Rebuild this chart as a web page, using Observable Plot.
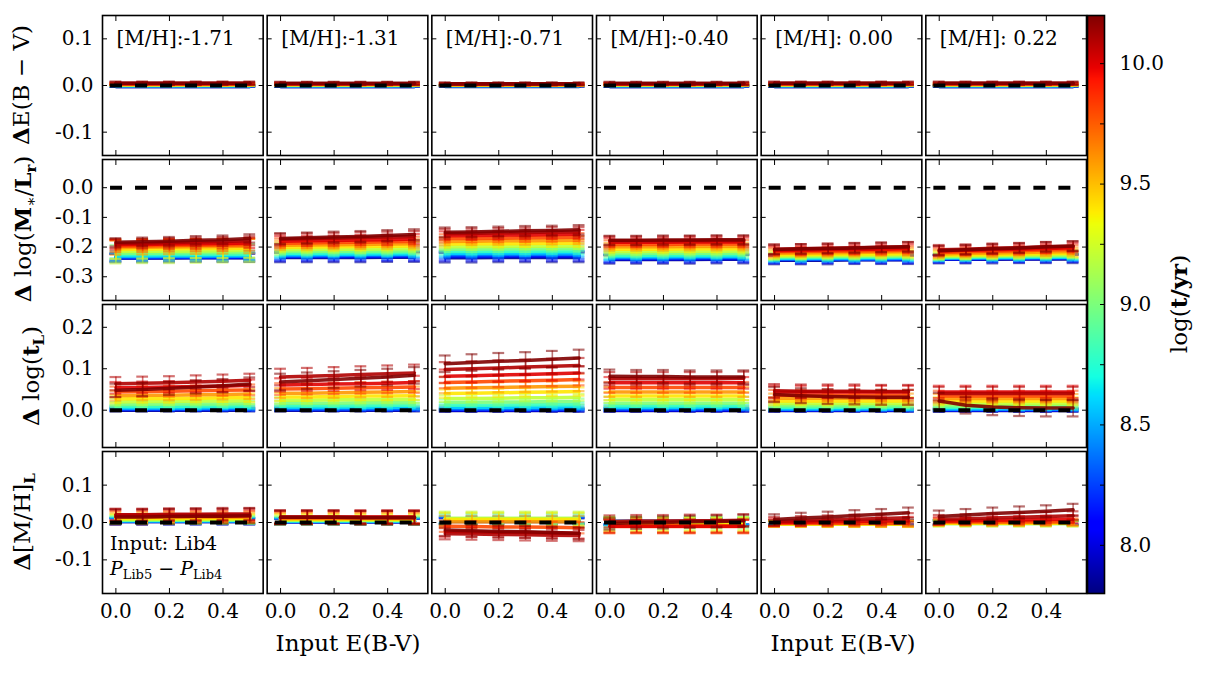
<!DOCTYPE html>
<html><head><meta charset="utf-8">
<script src="https://cdn.jsdelivr.net/npm/d3@7"></script>
<script src="https://cdn.jsdelivr.net/npm/@observablehq/plot@0.6"></script>
<style>
html,body{margin:0;padding:0;background:#fff;}
#chart{position:relative;width:1207px;height:673px;background:#fff;overflow:hidden;}
#chart svg, #chart svg text, #chart svg g {font-family:"DejaVu Serif", serif !important;}
</style></head><body><div id="chart"></div>
<script>
// ---------- categories / ticks ----------
const mhLabels = ["[M/H]:-1.71","[M/H]:-1.31","[M/H]:-0.71","[M/H]:-0.40","[M/H]: 0.00","[M/H]: 0.22"];
const inputEBV = [0, 0.1, 0.2, 0.3, 0.4, 0.5];
const ages = [7.8, 8.0, 8.2, 8.4, 8.6, 8.8, 9.0, 9.2, 9.4, 9.6, 9.8, 10.0, 10.1, 10.2];
const xTicks = [0, 0.2, 0.4];
const ebvTicks = [-0.1, 0, 0.1];
const mlTicks = [-0.3, -0.2, -0.1, 0];
const tlTicks = [0, 0.1, 0.2];
const mhTicks = [-0.1, 0, 0.1];
const cbTicks = [8.0, 8.5, 9.0, 9.5, 10.0];
const cbMinorTicks = [8.0, 8.25, 8.5, 8.75, 9.0, 9.25, 9.5, 9.75, 10.0];

// ---------- series values (units of 0.001), [panel][age][input E(B-V)] ----------
const ebvVals = [
 [[-2,-2,-2,-2,-2,-2],[-2,-2,-2,-2,-2,-2],[-1,-1,-1,-1,-1,-1],[-1,-1,-1,-1,-1,-1],[0,0,0,0,0,0],[0,0,0,0,0,0],[1,1,1,1,1,1],[1,1,1,1,1,1],[2,2,2,2,2,2],[2,2,2,2,2,2],[3,3,3,3,3,3],[4,4,4,4,4,4],[5,5,5,5,5,5],[5,5,5,5,5,5]],
 [[-2,-2,-2,-2,-2,-2],[-2,-2,-2,-2,-2,-2],[-1,-1,-1,-1,-1,-1],[-1,-1,-1,-1,-1,-1],[0,0,0,0,0,0],[0,0,0,0,0,0],[1,1,1,1,1,1],[1,1,1,1,1,1],[2,2,2,2,2,2],[2,2,2,2,2,2],[3,3,3,3,3,3],[4,4,4,4,4,4],[4,4,4,4,4,4],[5,5,5,5,5,5]],
 [[-2,-2,-2,-2,-2,-2],[-1,-1,-1,-1,-1,-1],[-1,-1,-1,-1,-1,-1],[0,0,0,0,0,0],[0,0,0,0,0,0],[0,0,0,0,0,0],[1,1,1,1,1,1],[1,1,1,1,1,1],[1,1,1,1,1,1],[2,2,2,2,2,2],[2,2,2,2,2,2],[3,3,3,3,3,3],[3,3,3,3,3,3],[4,4,4,4,4,4]],
 [[-2,-2,-2,-2,-2,-2],[-2,-2,-2,-2,-2,-2],[-1,-1,-1,-1,-1,-1],[-1,-1,-1,-1,-1,-1],[0,0,0,0,0,0],[0,0,0,0,0,0],[1,1,1,1,1,1],[1,1,1,1,1,1],[2,2,2,2,2,2],[2,2,2,2,2,2],[3,3,3,3,3,3],[3,3,3,3,3,3],[4,4,4,4,4,4],[5,5,5,5,5,5]],
 [[-2,-2,-2,-2,-2,-2],[-2,-2,-2,-2,-2,-2],[-1,-1,-1,-1,-1,-1],[-1,-1,-1,-1,-1,-1],[0,0,0,0,0,0],[0,0,0,0,0,0],[1,1,1,1,1,1],[1,1,1,1,1,1],[2,2,2,2,2,2],[2,2,2,2,2,2],[3,3,3,3,3,3],[4,4,4,4,4,4],[5,5,5,5,5,5],[5,5,5,5,5,5]],
 [[-2,-2,-2,-2,-2,-2],[-2,-2,-2,-2,-2,-2],[-1,-1,-1,-1,-1,-1],[-1,-1,-1,-1,-1,-1],[0,0,0,0,0,0],[0,0,0,0,0,0],[1,1,1,1,1,1],[1,1,1,1,1,1],[2,2,2,2,2,2],[2,2,2,2,2,2],[3,3,3,3,3,3],[4,4,4,4,4,4],[5,5,5,5,5,5],[5,5,5,5,5,5]]
];
const ebvErr = [
 [1,1,1,1,1,1,1,2,2,2,2,2,3,3],[1,1,1,1,1,1,1,2,2,2,2,2,3,3],[1,1,1,1,1,1,1,2,2,2,2,2,2,3],
 [1,1,1,1,1,1,1,2,2,2,2,2,3,3],[1,1,1,1,1,1,1,2,2,2,2,2,3,3],[1,1,1,1,1,1,1,2,2,2,2,2,3,3]
];

const mlVals = [
 [[-237,-237,-237,-236,-236,-236],[-236,-236,-235,-235,-235,-235],[-235,-235,-234,-234,-234,-233],[-233,-233,-232,-232,-231,-231],[-230,-230,-229,-229,-228,-228],[-226,-226,-225,-225,-224,-224],[-221,-221,-220,-219,-219,-218],[-215,-214,-214,-213,-212,-211],[-208,-207,-206,-205,-205,-204],[-202,-201,-200,-199,-198,-197],[-197,-196,-195,-194,-193,-192],[-192,-191,-190,-189,-188,-186],[-188,-187,-185,-183,-181,-179],[-184,-182,-180,-177,-175,-171]],
 [[-235,-235,-235,-235,-234,-234],[-233,-233,-233,-233,-232,-232],[-231,-231,-230,-230,-230,-229],[-228,-228,-228,-227,-227,-226],[-225,-225,-224,-224,-223,-223],[-221,-221,-220,-219,-219,-218],[-215,-215,-214,-213,-213,-212],[-209,-208,-207,-207,-206,-205],[-201,-200,-199,-198,-197,-196],[-194,-193,-192,-191,-190,-189],[-187,-186,-185,-184,-182,-181],[-180,-179,-178,-176,-175,-173],[-174,-172,-170,-168,-166,-164],[-171,-169,-166,-164,-161,-158]],
 [[-236,-236,-235,-235,-235,-235],[-233,-233,-232,-232,-232,-232],[-229,-229,-229,-228,-228,-228],[-225,-225,-225,-224,-224,-224],[-221,-221,-220,-220,-219,-219],[-215,-215,-214,-214,-213,-213],[-207,-207,-206,-206,-205,-205],[-199,-198,-198,-197,-197,-196],[-190,-189,-189,-188,-187,-187],[-181,-180,-179,-179,-178,-177],[-171,-171,-170,-169,-168,-167],[-162,-161,-160,-159,-158,-157],[-155,-154,-152,-151,-149,-148],[-150,-149,-147,-145,-144,-142]],
 [[-242,-242,-242,-242,-241,-241],[-240,-240,-240,-240,-239,-239],[-238,-238,-238,-237,-237,-237],[-235,-235,-235,-235,-234,-234],[-232,-232,-232,-231,-231,-231],[-228,-228,-227,-227,-227,-226],[-222,-222,-221,-221,-221,-220],[-215,-215,-214,-214,-214,-213],[-207,-207,-207,-206,-206,-206],[-199,-199,-199,-198,-198,-198],[-191,-191,-191,-190,-190,-190],[-184,-184,-184,-183,-183,-183],[-179,-179,-179,-178,-178,-178],[-177,-177,-176,-176,-175,-175]],
 [[-244,-244,-244,-243,-243,-243],[-243,-243,-242,-242,-242,-242],[-241,-241,-241,-241,-240,-240],[-240,-240,-239,-239,-239,-238],[-238,-238,-237,-237,-236,-236],[-236,-235,-235,-234,-234,-233],[-233,-232,-232,-231,-231,-230],[-230,-229,-228,-228,-227,-226],[-226,-225,-224,-223,-223,-222],[-221,-220,-219,-218,-217,-216],[-216,-215,-214,-213,-212,-211],[-212,-211,-209,-208,-207,-205],[-207,-206,-204,-202,-201,-199],[-208,-206,-205,-203,-201,-199]],
 [[-241,-241,-241,-240,-240,-240],[-240,-240,-239,-239,-239,-238],[-239,-239,-238,-238,-237,-237],[-238,-237,-237,-236,-236,-235],[-236,-236,-235,-235,-234,-234],[-235,-234,-233,-233,-232,-231],[-233,-232,-231,-230,-229,-228],[-230,-229,-228,-227,-226,-225],[-227,-226,-225,-223,-222,-221],[-223,-221,-220,-218,-217,-215],[-218,-216,-214,-212,-210,-208],[-213,-211,-209,-207,-205,-202],[-209,-207,-204,-202,-199,-197],[-212,-209,-206,-203,-199,-196]]
];
const mlErr = [
 [14,13,12,11,10,12,28,40,32,24,20,17,15,14],[16,15,13,11,10,10,11,12,14,15,16,17,18,18],[16,15,13,11,10,10,10,11,12,13,14,15,16,16],
 [14,13,12,10,10,10,10,11,12,13,14,15,15,15],[14,13,12,11,10,10,10,11,12,13,14,15,16,16],[14,13,12,11,10,10,10,11,12,13,14,15,16,16]
];

const tlVals = [
 [[0,0,0,0,0,0],[1,1,1,1,1,1],[2,2,2,2,2,2],[4,4,4,4,4,4],[6,6,6,6,7,7],[9,9,9,10,10,10],[14,14,15,15,15,16],[20,21,21,22,22,23],[27,28,28,29,30,30],[35,36,36,37,38,39],[44,45,46,47,48,49],[54,55,56,57,58,60],[64,65,66,68,70,72],[48,50,53,56,59,63]],
 [[0,0,0,0,0,0],[1,1,1,1,1,1],[2,2,2,2,2,2],[4,4,4,4,4,4],[7,7,7,7,7,7],[11,11,11,11,12,12],[17,17,17,18,18,18],[24,24,25,25,26,26],[32,32,33,34,34,35],[41,41,42,43,44,45],[51,52,53,54,55,56],[61,62,63,64,65,67],[80,82,84,86,88,90],[68,71,74,77,80,84]],
 [[-1,-1,-1,-1,-1,-1],[0,0,0,0,0,0],[2,2,2,2,2,2],[4,4,4,4,4,4],[7,7,7,7,8,8],[12,12,12,13,13,13],[19,19,20,20,21,21],[28,28,29,30,30,31],[40,41,42,43,44,45],[53,54,55,56,57,58],[67,68,70,71,72,74],[82,83,85,86,88,90],[98,100,102,104,106,108],[112,115,118,120,123,126]],
 [[-1,-1,-1,-1,-1,-1],[0,0,0,0,0,0],[2,2,2,2,2,2],[4,4,4,4,4,4],[7,7,7,7,7,7],[11,11,11,11,11,11],[17,17,17,17,17,17],[25,25,25,25,25,25],[34,34,34,34,34,34],[44,44,44,44,44,44],[55,55,55,55,55,55],[66,66,66,66,66,66],[76,76,76,76,76,77],[82,81,81,80,80,80]],
 [[-1,-1,-1,-1,-1,-1],[0,0,0,0,0,0],[1,1,1,1,1,1],[2,2,2,2,2,2],[4,4,4,4,4,4],[7,7,7,7,7,7],[11,11,11,11,11,11],[16,16,16,16,16,16],[22,22,22,22,22,22],[29,29,29,29,29,29],[36,36,36,36,36,36],[44,44,44,44,44,44],[47,46,46,46,45,45],[38,35,33,32,31,31]],
 [[-1,-1,-1,-1,-1,-1],[0,0,0,0,0,0],[1,1,1,1,1,1],[2,2,2,2,2,2],[4,4,4,4,4,4],[7,7,7,7,7,7],[11,11,11,11,11,11],[16,16,16,16,16,16],[22,22,22,22,22,22],[28,28,28,28,28,28],[34,34,34,34,34,34],[44,44,44,44,44,44],[40,40,40,40,40,40],[22,12,8,6,5,5]]
];
const tlErr = [
 [3,3,3,4,4,5,6,8,10,12,13,14,16,16],[3,3,3,4,4,5,6,8,10,12,14,16,20,20],[3,3,3,4,5,6,7,8,10,12,14,16,18,20],
 [3,3,3,4,5,6,7,8,10,12,13,14,16,16],[3,3,3,3,4,5,6,7,9,11,13,15,16,18],[3,3,3,3,4,5,6,7,9,11,13,15,16,20]
];

const mhVals = [
 [[3,3,3,3,3,3],[3,3,3,3,3,3],[4,4,4,4,4,4],[4,4,4,4,4,4],[5,5,5,5,5,5],[6,6,6,6,6,6],[7,7,7,7,7,7],[9,9,9,9,9,9],[11,11,11,11,11,11],[14,14,14,14,14,14],[17,17,17,17,17,17],[20,20,20,20,20,20],[21,21,22,22,23,23],[15,15,16,17,17,18]],
 [[2,2,2,2,2,2],[2,2,2,2,2,2],[3,3,3,3,3,3],[3,3,3,3,3,3],[4,4,4,4,4,4],[5,5,5,5,5,5],[6,6,6,6,6,6],[7,7,7,7,7,7],[9,9,9,9,9,9],[11,11,11,11,11,11],[13,13,13,13,13,13],[15,15,15,15,15,15],[14,14,14,14,14,14],[14,14,14,13,13,13]],
 [[3,3,3,3,3,3],[4,4,4,4,4,4],[5,5,5,5,5,5],[6,6,6,6,6,6],[8,8,8,8,8,8],[10,10,10,10,10,10],[11,11,11,11,11,11],[11,11,11,11,11,11],[8,8,8,8,8,8],[2,2,2,2,2,2],[-10,-11,-12,-12,-13,-14],[-24,-25,-26,-27,-28,-29],[-30,-31,-32,-33,-34,-35],[-20,-22,-24,-25,-27,-29]],
 [[2,2,2,2,2,2],[2,2,2,2,2,2],[3,3,3,3,3,3],[3,3,3,3,3,3],[3,3,3,3,3,3],[2,2,2,2,2,2],[0,0,0,0,0,0],[-3,-3,-3,-3,-3,-3],[-6,-6,-6,-6,-6,-6],[-9,-9,-9,-9,-9,-9],[-11,-11,-11,-11,-11,-11],[-10,-10,-10,-10,-10,-10],[3,4,4,5,5,6],[-3,-1,0,2,3,5]],
 [[0,0,0,0,0,0],[0,0,0,0,0,0],[0,0,0,0,0,0],[0,0,0,0,0,0],[-1,-1,-1,-1,-1,-1],[-2,-2,-2,-2,-2,-2],[-3,-3,-3,-3,-3,-3],[-4,-4,-4,-4,-4,-4],[-4,-4,-4,-4,-4,-4],[-3,-3,-3,-3,-3,-3],[-2,-2,-2,-2,-2,-2],[0,1,2,3,4,5],[3,5,7,9,11,13],[8,12,15,19,22,26]],
 [[0,0,0,0,0,0],[0,0,0,0,0,0],[0,0,0,0,0,0],[0,0,0,0,0,0],[-1,-1,-1,-1,-1,-1],[-2,-2,-2,-2,-2,-2],[-3,-3,-3,-3,-3,-3],[-3,-3,-3,-3,-3,-3],[-2,-2,-2,-2,-2,-2],[0,0,0,0,0,0],[2,2,2,2,2,2],[4,5,6,7,8,9],[8,10,12,14,16,18],[16,20,24,27,30,34]]
];
const mhErr = [
 [8,8,8,8,8,9,10,11,12,13,14,15,16,20],[8,8,8,8,8,9,10,12,14,15,16,17,18,18],[8,8,8,8,9,12,15,18,18,16,15,14,15,16],
 [8,8,8,8,9,12,15,18,18,18,18,17,16,16],[6,6,6,6,6,6,7,7,8,8,8,10,12,14],[6,6,6,6,6,6,7,7,8,8,9,10,12,16]
];

// ---------- jet colormap (matplotlib segment data) ----------
const jetR = [[0,0],[0.35,0],[0.66,1],[0.89,1],[1,0.5]];
const jetG = [[0,0],[0.125,0],[0.375,1],[0.64,1],[0.91,0],[1,0]];
const jetB = [[0,0.5],[0.11,1],[0.34,1],[0.65,0],[1,0]];
function seg(t, pts) {
  t = Math.max(0, Math.min(1, t));
  for (let i = 1; i < pts.length; i++) if (t <= pts[i][0]) {
    const [t0, v0] = pts[i-1], [t1, v1] = pts[i];
    return v0 + (v1 - v0) * (t - t0) / (t1 - t0);
  }
  return pts[pts.length-1][1];
}
const jet = t => d3.rgb(255*seg(t, jetR), 255*seg(t, jetG), 255*seg(t, jetB)).formatHex();
const colorScale = {type: "linear", domain: [7.8, 10.2], interpolate: jet};

// ---------- layout ----------
const FONT = "'DejaVu Serif', serif";
const CAP = 0.022;          // error-bar cap half width (style)
const rowsSpec = [
  {vals: ebvVals, errs: ebvErr, domain: [-0.15, 0.15], ticks: ebvTicks, top: 15, bottom: 155},
  {vals: mlVals, errs: mlErr, domain: [-0.38, 0.095], ticks: mlTicks, top: 159, bottom: 300},
  {vals: tlVals, errs: tlErr, domain: [-0.09, 0.255], ticks: tlTicks, top: 304, bottom: 447},
  {vals: mhVals, errs: mhErr, domain: [-0.19, 0.19], ticks: mhTicks, top: 451, bottom: 593}
];

function buildTable(vals, errs) {
  const out = [];
  vals.forEach((panel, c) => panel.forEach((series, a) => series.forEach((v, k) => {
    out.push({panel: mhLabels[c], age: ages[a], x: inputEBV[k], y: v / 1000, err: errs[c][a] / 1000});
  })));
  return out;
}
const fmt1 = d => d.toFixed(1);
const chart = document.getElementById("chart");

rowsSpec.forEach((spec, r) => {
  const table = buildTable(spec.vals, spec.errs);
  const last = r === rowsSpec.length - 1;
  const mt = 1, mb = last ? 46 : 1;
  const marks = [];
  ages.forEach(age => {
    const d = table.filter(o => o.age === age);
    marks.push(Plot.ruleX(d, {fx: "panel", x: "x", y1: o => o.y - o.err, y2: o => o.y + o.err, stroke: "age", strokeWidth: 1.6, strokeOpacity: 0.55}));
    marks.push(Plot.ruleY(d, {fx: "panel", y: o => o.y + o.err, x1: o => o.x - CAP, x2: o => o.x + CAP, stroke: "age", strokeWidth: 2.2, strokeOpacity: 0.55}));
    marks.push(Plot.ruleY(d, {fx: "panel", y: o => o.y - o.err, x1: o => o.x - CAP, x2: o => o.x + CAP, stroke: "age", strokeWidth: 2.2, strokeOpacity: 0.55}));
    marks.push(Plot.line(d, {fx: "panel", x: "x", y: "y", stroke: "age", strokeWidth: 3.5, strokeOpacity: 0.9}));
  });
  marks.push(Plot.ruleY([0], {x1: -0.02, x2: 0.52, stroke: "black", strokeWidth: 4, strokeDasharray: "12,13"}));
  marks.push(Plot.axisX({anchor: "bottom", ticks: xTicks, tickSize: 5, insetBottom: 5, fill: "none", facetAnchor: null, strokeWidth: 1}));
  marks.push(Plot.axisX({anchor: "top", ticks: xTicks, tickSize: 5, insetTop: 5, fill: "none", facetAnchor: null, strokeWidth: 1}));
  marks.push(Plot.axisY({anchor: "left", ticks: spec.ticks, tickSize: 5, insetLeft: 5, fill: "none", facetAnchor: null, strokeWidth: 1}));
  marks.push(Plot.axisY({anchor: "right", ticks: spec.ticks, tickSize: 5, insetRight: 5, fill: "none", facetAnchor: null, strokeWidth: 1}));
  marks.push(Plot.axisY({anchor: "left", ticks: spec.ticks, tickSize: 0, tickPadding: 9, tickFormat: fmt1, label: null, fontSize: 20}));
  if (last) marks.push(Plot.axisX({anchor: "bottom", ticks: xTicks, tickSize: 0, tickPadding: 10, tickFormat: fmt1, label: null, fontSize: 20}));
  if (r === 0) marks.push(Plot.text(mhLabels, {fx: d => d, text: d => d, frameAnchor: "top-left", textAnchor: "start", lineAnchor: "top", dx: 14, dy: 15, fontSize: 20, fill: "black"}));
  marks.push(Plot.frame({stroke: "black", strokeWidth: 1.6}));

  const el = Plot.plot({
    width: 1207,
    height: spec.bottom - spec.top + mt + mb,
    marginLeft: 102, marginRight: 121, marginTop: mt, marginBottom: mb,
    style: {fontFamily: FONT, fontSize: "20px", background: "none", overflow: "visible", color: "black"},
    x: {domain: [-0.05, 0.55]},
    y: {domain: spec.domain},
    fx: {domain: mhLabels, axis: null, paddingInner: 0.0243, paddingOuter: 0, round: false},
    color: colorScale,
    marks
  });
  el.style.position = "absolute";
  el.style.left = "0px";
  el.style.top = (spec.top - mt) + "px";
  chart.appendChild(el);
});

// ---------- colorbar ----------
const cb = Plot.plot({
  width: 110, height: 580,
  marginLeft: 1, marginRight: 92, marginTop: 1, marginBottom: 1,
  style: {fontFamily: FONT, fontSize: "20px", background: "none", overflow: "visible", color: "black"},
  x: {domain: [0, 1], axis: null},
  y: {domain: [7.8, 10.2]},
  color: colorScale,
  marks: [
    Plot.raster({fill: (x, y) => y, x1: 0, x2: 1, y1: 7.8, y2: 10.2}),
    Plot.axisY({anchor: "right", ticks: cbMinorTicks, tickSize: 5, insetRight: 5, fill: "none", strokeWidth: 1}),
    Plot.axisY({anchor: "right", ticks: cbTicks, tickSize: 0, tickPadding: 15, tickFormat: fmt1, label: null, fontSize: 20}),
    Plot.frame({stroke: "black", strokeWidth: 1.6})
  ]
});
cb.style.position = "absolute";
cb.style.left = "1086px";
cb.style.top = "14px";
chart.appendChild(cb);

// ---------- rich-text titles ----------
const B = s => `<tspan font-weight="bold">${s}</tspan>`;
const SUB = (s, bold) => `<tspan font-size="15" dy="5"${bold ? ' font-weight="bold"' : ''}>${s}</tspan>`;
const UP = s => `<tspan dy="-5">${s}</tspan>`;
const rowTitles = [
  {x: 29, y: 85,  html: `${B("Δ")}E(B − V)`},
  {x: 31, y: 229, html: `${B("Δ")} log(${B("M")}${SUB("∗")}${UP("/")}${B("L")}${SUB("r", true)}${UP(")")}`},
  {x: 39, y: 376, html: `${B("Δ")} log(${B("t")}${SUB("L", true)}${UP(")")}`},
  {x: 30, y: 522, html: `${B("Δ")}[M/H]${SUB("L", true)}`}
];
let ov = `<svg xmlns="http://www.w3.org/2000/svg" width="1207" height="673" style="position:absolute;left:0;top:0;overflow:visible" fill="black">`;
rowTitles.forEach(t => {
  ov += `<text transform="translate(${t.x},${t.y}) rotate(-90)" text-anchor="middle" font-size="23">${t.html}</text>`;
});
ov += `<text x="348" y="651" text-anchor="middle" font-size="23">Input E(B-V)</text>`;
ov += `<text x="843" y="651" text-anchor="middle" font-size="23">Input E(B-V)</text>`;
ov += `<text transform="translate(1187,304) rotate(-90)" text-anchor="middle" font-size="23">log(${B("t/yr")})</text>`;
ov += `<text x="110" y="550" font-size="19">Input: Lib4</text>`;
ov += `<text x="110" y="575" font-size="19"><tspan font-style="italic">P</tspan><tspan font-size="13" dy="4">Lib5</tspan><tspan dy="-4"> − </tspan><tspan font-style="italic">P</tspan><tspan font-size="13" dy="4">Lib4</tspan></text>`;
ov += `</svg>`;
chart.insertAdjacentHTML("beforeend", ov);
</script></body></html>
